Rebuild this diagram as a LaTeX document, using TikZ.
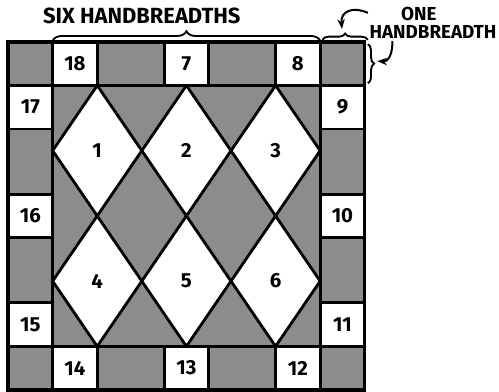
\documentclass[tikz,border=0pt]{standalone}
\usepackage{fontspec}
\setmainfont{Fira Sans}
\usetikzlibrary{calc,arrows.meta,decorations.pathreplacing}

\begin{document}
\begin{tikzpicture}[x=1cm,y=0.975cm,line width=1.8pt,>={Stealth[length=2.2mm]},
  sombra/.style={fill=black!45},
  num/.style={font=\fontsize{13}{15}\bfseries\selectfont},
  casilla/.style={draw,fill=white,num,minimum width=1cm,minimum height=0.975cm,inner sep=0pt},
  rotulo/.style={font=\fontsize{#1}{11.5}\bfseries\selectfont,inner sep=1pt,align=center},
  llave/.style={decorate,decoration={brace,amplitude=#1},line width=1.2pt}]
  \useasboundingbox (-0.18,-0.046) rectangle (11.01,8.966);
  % campo: fondo sombreado y rombos
  \fill[sombra] (1,1) rectangle (7,7);
  \foreach \cx/\cy/\n in {2/5.5/1,4/5.5/2,6/5.5/3,2/2.5/4,4/2.5/5,6/2.5/6}{
    \filldraw[fill=white] (\cx-1,\cy) -- (\cx,\cy+1.5) -- (\cx+1,\cy) -- (\cx,\cy-1.5) -- cycle;
    \node[num] (d\n) at (\cx,\cy) {\n};
  }
  \draw (1,1) rectangle (7,7);
  % borde: esquinas y tramos sombreados
  \foreach \a/\b in {0/1,2/3.5,4.5/6,7/8}{
    \filldraw[sombra] (\a,7) rectangle (\b,8);
    \filldraw[sombra] (\a,0) rectangle (\b,1);
    \filldraw[sombra] (0,\a) rectangle (1,\b);
    \filldraw[sombra] (7,\a) rectangle (8,\b);
  }
  % casillas numeradas
  \foreach \x/\y/\n in {1.5/7.5/18,4/7.5/7,6.5/7.5/8,7.5/6.5/9,7.5/4/10,7.5/1.5/11,
                        6.5/0.5/12,4/0.5/13,1.5/0.5/14,0.5/1.5/15,0.5/4/16,0.5/6.5/17}
    \node[casilla] (c\n) at (\x,\y) {\n};
  \draw[line width=2.2pt] (0,0) rectangle (8,8);
  % medidas
  \draw[llave=6pt] (1,8.03) -- (7,8.03);
  \draw[llave=4pt] (7.05,8.05) -- (8.07,8.05);
  \draw[llave=4pt] (8.07,7.95) -- (8.07,7.05);
  \node[rotulo=14] (seislbl) at (3.0,8.6) {SIX HANDBREADTHS};
  \node[rotulo=12] (unalbl) at (9.53,8.45) {ONE\hspace*{18pt}\\HANDBREADTH};
  \coordinate (ini1) at (8.07,8.67);
  \coordinate (fin1) at (7.49,8.3);
  \coordinate (ini2) at (8.62,8.02);
  \coordinate (fin2) at (8.28,7.56);
  \draw[->,line width=1.3pt] (ini1) .. controls (7.75,8.82) and (7.45,8.72) .. (fin1);
  \draw[->,line width=1.3pt] (ini2) .. controls (8.62,7.65) and (8.5,7.55) .. (fin2);
\end{tikzpicture}
\end{document}
